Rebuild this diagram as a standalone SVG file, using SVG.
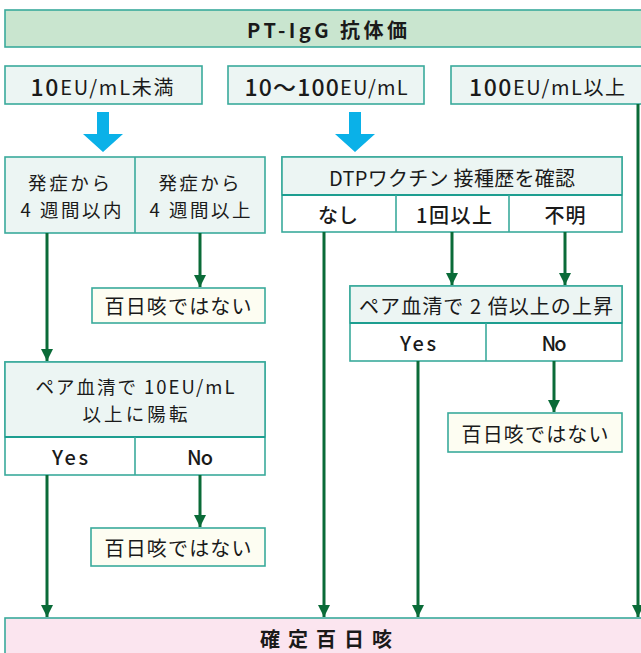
<svg xmlns="http://www.w3.org/2000/svg" width="641" height="653" viewBox="0 0 641 653">
<defs>
<style>
text{font-family:"Noto Sans CJK JP","Noto Sans",sans-serif;fill:#1a1a1a;font-size:20px;text-anchor:middle;dominant-baseline:central}
.two{font-size:18.5px}
.box{fill:#ecf5f3;stroke:#3aaa9c;stroke-width:1.6}
.wbox{fill:#ffffff;stroke:#3aaa9c;stroke-width:1.6}
.neg{fill:#fdfdf2;stroke:#3aaa9c;stroke-width:1.6}
.div{stroke:#1d9e90;stroke-width:2.2}
.vd{stroke:#3aaa9c;stroke-width:1.6}
.ln{stroke:#0a6b38;stroke-width:3;fill:none}
.b{font-weight:bold}
.m{font-weight:500}
.num{font-size:23px;font-weight:500}
.blue{fill:#0ab1e8}
</style>
<marker id="ah" viewBox="0 0 10 10" refX="10" refY="5" markerWidth="4" markerHeight="4" markerUnits="strokeWidth" orient="auto">
<path d="M0,0 L10,5 L0,10 z" fill="#0a6b38"/>
</marker>
</defs>

<g id="title">
<rect x="5" y="10" width="640" height="37" fill="#c9e5cf" stroke="#3aaa9c" stroke-width="1.6"/>
<text x="327" y="29" class="b" font-size="17" textLength="160" lengthAdjust="spacing">PT-IgG 抗体価</text>
</g>

<g id="lt10">
<rect class="box" x="5" y="66" width="197" height="38"/>
<text x="102" y="86" textLength="143" lengthAdjust="spacing"><tspan class="num">10</tspan><tspan>EU/mL未満</tspan></text>
</g>
<g id="mid">
<rect class="box" x="228" y="66" width="196" height="38"/>
<text x="326" y="86" textLength="163" lengthAdjust="spacing"><tspan class="num">10～100</tspan><tspan>EU/mL</tspan></text>
</g>
<g id="ge100">
<rect class="box" x="451" y="66" width="200" height="38"/>
<text x="547" y="86" textLength="156" lengthAdjust="spacing"><tspan class="num">100</tspan><tspan>EU/mL以上</tspan></text>
</g>

<g id="blue-arrows">
<path class="blue" d="M97,112 H109 V134 H123 L103,152 L83,134 H97 Z"/>
<path class="blue" d="M349,112 H361 V134 H375 L355,152 L335,134 H349 Z"/>
</g>

<g id="onset">
<rect class="box" x="5" y="157" width="260" height="76"/>
<line class="vd" x1="135" y1="157" x2="135" y2="233"/>
<text class="two" x="69" y="182" textLength="82" lengthAdjust="spacing">発症から</text>
<text class="two" x="71" y="209" textLength="101" lengthAdjust="spacing">4 週間以内</text>
<text class="two" x="199" y="182" textLength="81" lengthAdjust="spacing">発症から</text>
<text class="two" x="200" y="209" textLength="101" lengthAdjust="spacing">4 週間以上</text>
</g>

<g id="dtp">
<rect class="wbox" x="282" y="157" width="340" height="75"/>
<rect x="282" y="157" width="340" height="38" fill="#ecf5f3" stroke="#3aaa9c" stroke-width="1.6"/>
<line class="div" x1="282" y1="195" x2="622" y2="195"/>
<line class="vd" x1="396" y1="195" x2="396" y2="232"/>
<line class="vd" x1="509" y1="195" x2="509" y2="232"/>
<text x="452" y="177" textLength="246" lengthAdjust="spacing">DTPワクチン 接種歴を確認</text>
<text x="338" y="214" class="m" textLength="40" lengthAdjust="spacing">なし</text>
<text x="454" y="214" class="m" textLength="76" lengthAdjust="spacing">1回以上</text>
<text x="565" y="214" class="m" textLength="41" lengthAdjust="spacing">不明</text>
</g>

<g id="neg1">
<rect class="neg" x="92" y="288" width="173" height="35"/>
<text x="178" y="305" textLength="147" lengthAdjust="spacing">百日咳ではない</text>
</g>

<g id="pair2">
<rect class="wbox" x="350" y="286" width="272" height="75"/>
<rect x="350" y="286" width="272" height="37" fill="#ecf5f3" stroke="#3aaa9c" stroke-width="1.6"/>
<line class="div" x1="350" y1="323" x2="622" y2="323"/>
<line class="vd" x1="486" y1="323" x2="486" y2="361"/>
<text x="486" y="305" textLength="254" lengthAdjust="spacing">ペア血清で 2 倍以上の上昇</text>
<text x="418" y="342" class="m" textLength="36" lengthAdjust="spacing">Yes</text>
<text x="554" y="342" class="m" textLength="25" lengthAdjust="spacing">No</text>
</g>

<g id="pair10">
<rect class="wbox" x="5" y="362" width="260" height="113"/>
<rect x="5" y="362" width="260" height="75" fill="#ecf5f3" stroke="#3aaa9c" stroke-width="1.6"/>
<line class="div" x1="5" y1="437" x2="265" y2="437"/>
<line class="vd" x1="135" y1="437" x2="135" y2="475"/>
<text class="two" x="135" y="386" textLength="199" lengthAdjust="spacing">ペア血清で 10EU/mL</text>
<text class="two" x="135" y="413" textLength="105" lengthAdjust="spacing">以上に陽転</text>
<text x="70" y="456" class="m" textLength="36" lengthAdjust="spacing">Yes</text>
<text x="200" y="456" class="m" textLength="26" lengthAdjust="spacing">No</text>
</g>

<g id="neg3">
<rect class="neg" x="448" y="413" width="174" height="39"/>
<text x="535" y="433" textLength="147" lengthAdjust="spacing">百日咳ではない</text>
</g>

<g id="neg2">
<rect class="neg" x="91" y="528" width="174" height="38"/>
<text x="178" y="547" textLength="147" lengthAdjust="spacing">百日咳ではない</text>
</g>

<g id="confirmed">
<rect x="5" y="618" width="640" height="45" fill="#fbe5ef" stroke="#3aaa9c" stroke-width="1.6"/>
<text x="326" y="638" class="b" font-size="18" textLength="132" lengthAdjust="spacing">確定百日咳</text>
</g>

<g id="connectors">
<line class="ln" x1="47" y1="233" x2="47" y2="361" marker-end="url(#ah)"/>
<line class="ln" x1="200" y1="233" x2="200" y2="287" marker-end="url(#ah)"/>
<line class="ln" x1="452" y1="232" x2="452" y2="285" marker-end="url(#ah)"/>
<line class="ln" x1="565" y1="232" x2="565" y2="285" marker-end="url(#ah)"/>
<line class="ln" x1="200" y1="475" x2="200" y2="527" marker-end="url(#ah)"/>
<line class="ln" x1="554" y1="361" x2="554" y2="412" marker-end="url(#ah)"/>
<line class="ln" x1="47" y1="475" x2="47" y2="617" marker-end="url(#ah)"/>
<line class="ln" x1="324" y1="232" x2="324" y2="617" marker-end="url(#ah)"/>
<line class="ln" x1="418" y1="361" x2="418" y2="617" marker-end="url(#ah)"/>
<line class="ln" x1="638" y1="104" x2="638" y2="617" marker-end="url(#ah)"/>
</g>
</svg>
